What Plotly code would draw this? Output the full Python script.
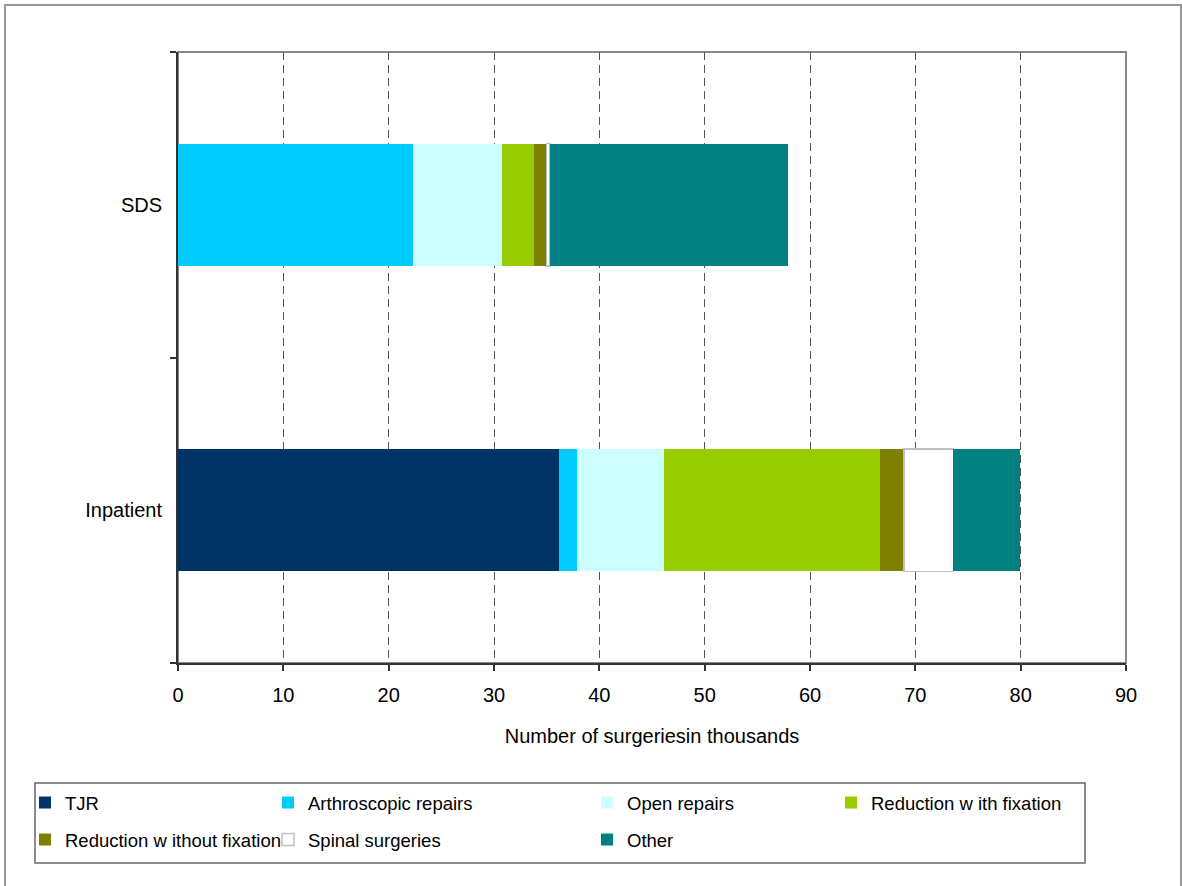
import plotly.graph_objects as go

categories = ["Inpatient", "SDS"]
series_names = ["TJR", "Arthroscopic repairs", "Open repairs", "Reduction with fixation",
                "Reduction without fixation", "Spinal surgeries", "Other"]
legend_labels = ["TJR", "Arthroscopic repairs", "Open repairs", "Reduction w ith fixation",
                 "Reduction w ithout fixation", "Spinal surgeries", "Other"]
# values in thousands: [Inpatient, SDS]
tjr = [36.2, 0.0]
arthroscopic = [1.7, 22.3]
open_repairs = [8.2, 8.5]
red_with_fix = [20.5, 3.0]
red_without_fix = [2.3, 1.2]
spinal = [4.7, 0.3]
other = [6.3, 22.6]
x_ticks = [0, 10, 20, 30, 40, 50, 60, 70, 80, 90]

values = [tjr, arthroscopic, open_repairs, red_with_fix, red_without_fix, spinal, other]
colors = ["#003366", "#00CCFF", "#CCFFFF", "#99CC00", "#808000", "#FFFFFF", "#008080"]

W, H = 1182, 886
L, R, T, B = 178, 1126, 52, 663
PW, PH = R - L, B - T

def px_x(X):
    return (X - L) / PW

def px_y(Y):
    return (B - Y) / PH

# legend text start positions (pixels) and row centers
legend_pos = [(60, 803), (303, 803), (622, 803), (866, 803),
              (60, 840), (303, 840), (622, 840)]

fig = go.Figure()
for i, (name, vals, col) in enumerate(zip(series_names, values, colors)):
    lw = 1.5 if name == "Spinal surgeries" else 0
    lc = "#C0C0C0" if name == "Spinal surgeries" else col
    fig.add_trace(go.Bar(
        y=categories, x=vals, name=legend_labels[i], orientation="h",
        marker=dict(color=col, line=dict(color=lc, width=lw)),
        width=0.4,
        legend="legend" if i == 0 else f"legend{i+1}",
        hoverinfo="x+name",
    ))

font_family = "Liberation Sans, Arial, sans-serif"
layout_legends = {}
for i, (tx, ty) in enumerate(legend_pos):
    key = "legend" if i == 0 else f"legend{i+1}"
    layout_legends[key] = dict(
        x=px_x(tx - 35), y=px_y(ty), xanchor="left", yanchor="middle",
        bgcolor="rgba(0,0,0,0)", borderwidth=0,
        font=dict(family=font_family, size=18.5, color="#000000"),
    )

fig.update_layout(
    width=W, height=H,
    margin=dict(l=L, r=W - R, t=T, b=H - B, pad=0),
    barmode="stack",
    paper_bgcolor="#FFFFFF", plot_bgcolor="#FFFFFF",
    font=dict(family=font_family, size=20, color="#000000"),
    showlegend=True,
    **layout_legends,
    xaxis=dict(
        range=[0, 90], tickvals=x_ticks, ticktext=[str(v) for v in x_ticks],
        showgrid=True, gridcolor="#555555", gridwidth=1, griddash="8px,5px",
        showline=True, linecolor="#333333", linewidth=2,
        ticks="outside", ticklen=6, tickcolor="#333333", tickwidth=1.5,
        zeroline=False,
        ticklabelstandoff=7,
        tickfont=dict(size=20),
        title=dict(text="Number of surgeriesin thousands", font=dict(size=20), standoff=24),
    ),
    yaxis=dict(
        type="category", categoryorder="array", categoryarray=categories,
        range=[-0.5, 1.5],
        showgrid=False, showline=True, linecolor="#333333", linewidth=2,
        ticks="outside", ticklen=6, tickcolor="#333333", tickwidth=1.5,
        tickson="boundaries", ticklabelstandoff=10,
        tickfont=dict(size=20),
        zeroline=False,
    ),
    shapes=[
        # outer chart frame
        dict(type="rect", xref="paper", yref="paper",
             x0=px_x(5), y0=px_y(5), x1=px_x(1181), y1=px_y(895),
             line=dict(color="#999999", width=2), layer="below"),
        # plot area frame (top/right gray)
        dict(type="rect", xref="paper", yref="paper", x0=0, y0=0, x1=1, y1=1,
             line=dict(color="#888888", width=2), layer="below"),
        # legend box
        dict(type="rect", xref="paper", yref="paper",
             x0=px_x(35), y0=px_y(863), x1=px_x(1085), y1=px_y(783),
             line=dict(color="#666666", width=1.5), layer="below"),
    ],
)

fig.write_html("out.html", config={"displayModeBar": False},
               post_script="document.body.style.margin='0px';")
